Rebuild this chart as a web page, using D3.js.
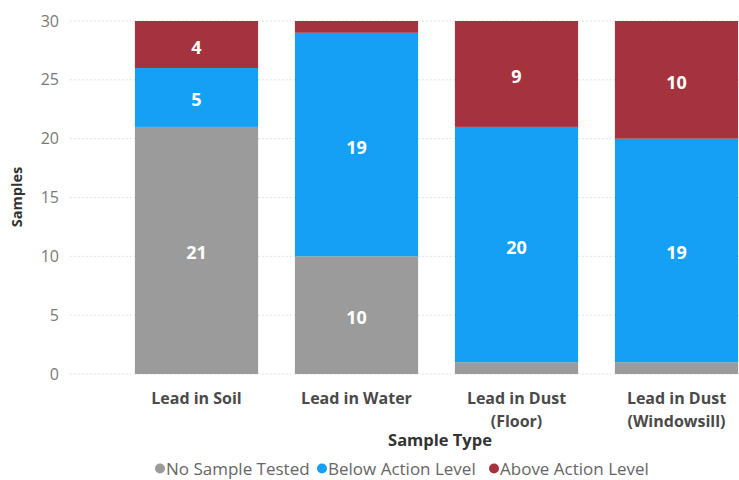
<!DOCTYPE html>
<html>
<head>
<meta charset="utf-8">
<script src="https://cdn.jsdelivr.net/npm/d3@7"></script>
<style>
  html, body { margin: 0; padding: 0; background: #fff; }
  svg { display: block; font-family: "Open Sans", "Noto Sans", sans-serif; }
</style>
</head>
<body>
<svg id="chart" width="739" height="480"></svg>
<script>
// Sample categories (two-line labels split on "\n")
const categories = ["Lead in Soil", "Lead in Water", "Lead in Dust\n(Floor)", "Lead in Dust\n(Windowsill)"];
const seriesNames = ["No Sample Tested", "Below Action Level", "Above Action Level"];
const noSampleTested = [21, 10, 1, 1];
const belowActionLevel = [5, 19, 20, 19];
const aboveActionLevel = [4, 1, 9, 10];
const yTicks = [0, 5, 10, 15, 20, 25, 30];
const colors = ["#9b9b9b", "#14a0f4", "#a5333d"];

const svg = d3.select("#chart");
const W = 739, H = 480;

const x = d3.scaleBand().domain(categories).range([116.5, 756.5])
  .paddingInner(0.23).paddingOuter(0.115);
const y = d3.scaleLinear().domain([0, 30]).range([374, 21]);

// Gridlines
svg.append("g").selectAll("line").data(yTicks).join("line")
  .attr("x1", 70).attr("x2", W)
  .attr("y1", d => y(d)).attr("y2", d => y(d))
  .attr("stroke", "#d6d6d6").attr("stroke-width", 1)
  .attr("stroke-dasharray", "1.5,2.5");

// Y axis tick labels
const yAxis = d3.axisLeft(y).tickValues(yTicks).tickSize(0).tickPadding(0);
const gy = svg.append("g").attr("transform", "translate(59,0)").call(yAxis);
gy.select(".domain").remove();
gy.selectAll("text").attr("fill", "#7a7a7a").attr("font-size", 16)
  .attr("font-family", "'Open Sans', sans-serif");

// Stacked data
const rows = categories.map((c, i) => ({
  cat: c,
  "No Sample Tested": noSampleTested[i],
  "Below Action Level": belowActionLevel[i],
  "Above Action Level": aboveActionLevel[i]
}));
const stacked = d3.stack().keys(seriesNames)(rows);

const layers = svg.append("g").selectAll("g").data(stacked).join("g")
  .attr("fill", (d, i) => colors[i]);
layers.selectAll("rect").data(d => d).join("rect")
  .attr("x", d => x(d.data.cat))
  .attr("width", x.bandwidth())
  .attr("y", d => y(d[1]))
  .attr("height", d => y(d[0]) - y(d[1]));

// Value labels inside segments large enough to hold them
const labels = svg.append("g");
stacked.forEach(layer => {
  layer.forEach(d => {
    const v = d[1] - d[0];
    if (v < 3) return;
    labels.append("text")
      .attr("x", x(d.data.cat) + x.bandwidth() / 2)
      .attr("y", (y(d[0]) + y(d[1])) / 2)
      .attr("dy", "0.5em")
      .attr("text-anchor", "middle")
      .attr("fill", "#fff")
      .attr("font-weight", 700)
      .attr("font-size", 18)
      .text(v);
  });
});

// X category labels
const xl = svg.append("g");
categories.forEach(c => {
  const t = xl.append("text")
    .attr("x", x(c) + x.bandwidth() / 2)
    .attr("y", 404)
    .attr("text-anchor", "middle")
    .attr("fill", "#4a4a4a")
    .attr("font-weight", 700)
    .attr("font-size", 16);
  c.split("\n").forEach((line, i) => {
    t.append("tspan").attr("x", x(c) + x.bandwidth() / 2)
      .attr("dy", i === 0 ? 0 : 23).text(line);
  });
});

// Axis titles
svg.append("text")
  .attr("x", 440).attr("y", 446)
  .attr("text-anchor", "middle")
  .attr("fill", "#333").attr("font-weight", 700).attr("font-size", 16.5)
  .text("Sample Type");

svg.append("text")
  .attr("transform", "translate(22,197) rotate(-90)")
  .attr("text-anchor", "middle")
  .attr("fill", "#333").attr("font-weight", 700).attr("font-size", 14.5)
  .text("Samples");

// Legend
const legend = svg.append("g").attr("font-size", 17).attr("fill", "#666");
const legendX = [160, 322, 494];
seriesNames.forEach((name, i) => {
  legend.append("circle")
    .attr("cx", legendX[i]).attr("cy", 468.5).attr("r", 5)
    .attr("fill", colors[i]);
  legend.append("text")
    .attr("x", legendX[i] + 6).attr("y", 475)
    .attr("fill", "#666")
    .text(name);
});
</script>
</body>
</html>
